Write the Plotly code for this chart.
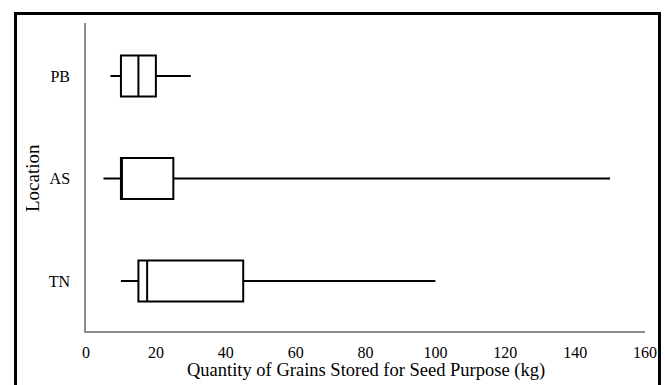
import plotly.graph_objects as go

locations = ["TN", "AS", "PB"]
lower_whisker = [10, 5, 7]
q1_vals = [15, 10, 10]
median_vals = [17.5, 10, 15]
q3_vals = [45, 25, 20]
upper_whisker = [100, 150, 30]
x_ticks = [0, 20, 40, 60, 80, 100, 120, 140, 160]
x_title = "Quantity of Grains Stored for Seed Purpose (kg)"
y_title = "Location"

FONT = "Liberation Serif, Times New Roman, serif"

fig = go.Figure()
fig.add_trace(go.Box(
    y=locations,
    q1=q1_vals, median=median_vals, q3=q3_vals,
    lowerfence=lower_whisker, upperfence=upper_whisker,
    orientation="h",
    width=0.40,
    whiskerwidth=0,
    fillcolor="white",
    line=dict(color="black", width=2),
    boxpoints=False,
    hoverinfo="x",
    showlegend=False,
))

W, H = 665, 385
L, R, T, B = 86, 20, 23, 54
pw, ph = W - L - R, H - T - B

def px2x(px):
    return (px - L) / pw

def py2y(py):
    return (H - B - py) / ph

fig.add_shape(type="rect", xref="paper", yref="paper",
              x0=px2x(15.5), x1=px2x(659.5), y0=py2y(400), y1=py2y(13.5),
              line=dict(color="black", width=3), fillcolor="rgba(0,0,0,0)", layer="below")

fig.add_annotation(text=x_title, xref="paper", yref="paper",
                   x=px2x(366), y=py2y(383), xanchor="center", yanchor="bottom",
                   showarrow=False, font=dict(family=FONT, size=18.5, color="black"))
fig.add_annotation(text=y_title, xref="paper", yref="paper",
                   x=px2x(32), y=py2y(178), xanchor="center", yanchor="middle",
                   textangle=-90, showarrow=False, font=dict(family=FONT, size=19, color="black"))

fig.update_layout(
    width=W, height=H,
    margin=dict(l=L, r=R, t=T, b=B),
    paper_bgcolor="white", plot_bgcolor="white",
    font=dict(family=FONT, size=16, color="black"),
    xaxis=dict(
        range=[0, 160], tickvals=x_ticks, ticktext=[str(v) for v in x_ticks],
        showgrid=False, zeroline=False, showline=True, linecolor="#8c8c8c", linewidth=1.5,
        ticks="", ticklabelstandoff=6, automargin=False,
        fixedrange=True,
    ),
    yaxis=dict(
        type="category", categoryorder="array", categoryarray=locations,
        range=[-0.488, 2.517],
        showgrid=False, zeroline=False, showline=True, linecolor="#8c8c8c", linewidth=1.5,
        ticks="", ticklabelstandoff=11, automargin=False,
        fixedrange=True,
    ),
)

fig.write_html("out.html", config={"displayModeBar": False},
               post_script="document.body.style.margin='0';document.body.style.overflow='hidden';")
